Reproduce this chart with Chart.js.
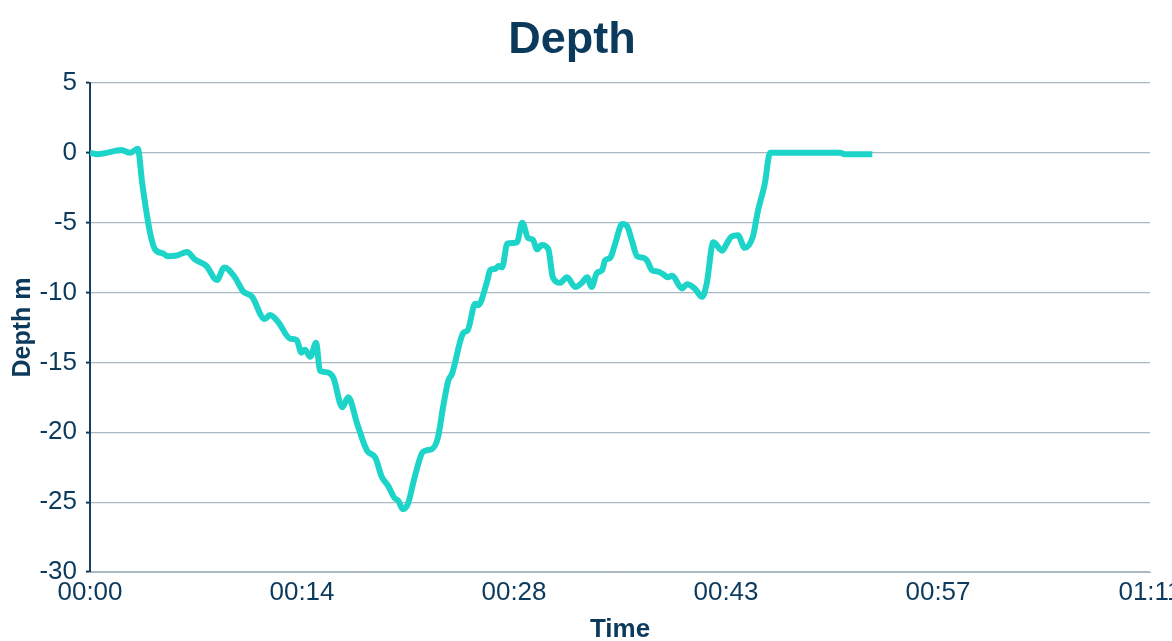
<!DOCTYPE html>
<html>
<head>
<meta charset="utf-8">
<script src="https://cdn.jsdelivr.net/npm/chart.js@4.4.1/dist/chart.umd.min.js"></script>
<style>
  html, body { margin: 0; padding: 0; background: #fff; }
  .wrap { width: 1172px; height: 641px; overflow: hidden; position: relative; }
  canvas { display: block; }
</style>
</head>
<body>
<div class="wrap">
  <canvas id="depthChart" width="1187" height="641"></canvas>
</div>
<script>
// dive time in minutes
const depthTimes = [
  0, 0.5, 1.1, 2.1, 2.7, 3.2, 3.5, 4.0, 4.35, 4.9,
  5.2, 5.8, 6.5, 7.0, 7.8, 8.5, 9.0, 9.7, 10.25, 10.85,
  11.7, 12.05, 12.6, 13.4, 13.85, 14.15, 14.4, 14.75, 15.15, 15.4,
  15.85, 16.3, 16.9, 17.3, 17.9, 18.55, 19.1, 19.55, 19.95, 20.4,
  20.65, 20.95, 21.3, 21.75, 22.3, 22.9, 23.3, 23.65, 24.0, 24.25,
  25.0, 25.3, 25.8, 26.0, 26.6, 26.8, 27.15, 27.35, 27.6, 27.95,
  28.6, 28.95, 29.35, 29.65, 29.95, 30.25, 30.7, 31.0, 31.5, 31.95,
  32.5, 32.95, 33.3, 33.6, 33.95, 34.3, 34.5, 34.85, 35.15, 35.65,
  35.95, 36.3, 36.65, 37.05, 37.3, 37.65, 38.05, 38.4, 38.7, 39.0,
  39.65, 40.0, 40.5, 41.0, 41.3, 41.75, 42.35, 42.65, 42.95, 43.4,
  43.85, 44.4, 44.75, 45.2, 45.55, 50.25, 50.55, 52.4
];
// depth in metres
const depthValues = [
  0, -0.1, 0, 0.2, 0, 0.3, -2.2, -5.6, -6.9, -7.2,
  -7.4, -7.35, -7.1, -7.6, -8.1, -9.1, -8.2, -8.9, -9.9, -10.3,
  -11.9, -11.6, -12.1, -13.3, -13.4, -14.3, -14.1, -14.6, -13.6, -15.6,
  -15.7, -16.1, -18.2, -17.5, -19.4, -21.3, -21.8, -23.2, -23.8, -24.7,
  -24.9, -25.5, -25.1, -23.2, -21.4, -21.2, -20.4, -18.2, -16.3, -15.8,
  -12.9, -12.7, -10.8, -10.9, -9.2, -8.4, -8.3, -8.1, -8.2, -6.5,
  -6.4, -5.0, -6.1, -6.2, -6.9, -6.6, -6.9, -8.9, -9.3, -8.9,
  -9.6, -9.3, -8.9, -9.6, -8.6, -8.4, -7.7, -7.5, -6.6, -5.1,
  -5.2, -6.3, -7.4, -7.5, -7.7, -8.4, -8.5, -8.7, -8.9, -8.8,
  -9.7, -9.4, -9.7, -10.3, -9.4, -6.4, -7.0, -6.5, -6.0, -5.9,
  -6.8, -6.0, -4.1, -2.2, 0, 0, -0.1, -0.1
];
const xTickValues = [0, 14.2, 28.4, 42.6, 56.8, 71];
const xTickLabels = ['00:00', '00:14', '00:28', '00:43', '00:57', '01:11'];

const navy = '#0c3a5d';
const gridGray = '#a9b9c4';
const fontFamily = 'Arial, "Liberation Sans", sans-serif';

const ctx = document.getElementById('depthChart').getContext('2d');
new Chart(ctx, {
  type: 'line',
  data: {
    datasets: [{
      label: 'Depth',
      data: depthTimes.map((t, i) => ({ x: t, y: depthValues[i] })),
      borderColor: '#1cd4c8',
      borderWidth: 6,
      pointRadius: 0,
      fill: false,
      cubicInterpolationMode: 'monotone'
    }]
  },
  options: {
    responsive: false,
    animation: false,
    // canvas is a bit wider than the window so the last time label gets cut like the original
    layout: { padding: { left: -6, right: 37, top: 0, bottom: 0 } },
    plugins: {
      legend: { display: false },
      tooltip: { enabled: false },
      title: {
        display: true,
        text: 'Depth',
        color: navy,
        font: { family: fontFamily, size: 45, weight: 'bold' },
        padding: { top: 14, bottom: 15 }
      }
    },
    scales: {
      x: {
        type: 'linear',
        min: 0,
        max: 71,
        afterBuildTicks: scale => {
          scale.ticks = xTickValues.map(v => ({ value: v }));
        },
        afterFit: scale => {
          scale.height = 69;
        },
        grid: { display: false, drawTicks: false },
        border: { display: true, color: gridGray, width: 1 },
        ticks: {
          autoSkip: false,
          maxRotation: 0,
          padding: 5,
          color: navy,
          font: { family: fontFamily, size: 26 },
          callback: (v, i) => xTickLabels[i]
        },
        title: {
          display: true,
          text: 'Time',
          color: navy,
          font: { family: fontFamily, size: 26, weight: 'bold', lineHeight: 0.85 },
          padding: { top: 6, bottom: 0 }
        }
      },
      y: {
        min: -30,
        max: 5,
        afterFit: scale => {
          scale.width = 96;
        },
        ticks: {
          stepSize: 5,
          padding: 9,
          color: navy,
          font: { family: fontFamily, size: 26 }
        },
        grid: {
          color: gridGray,
          lineWidth: 1.2,
          tickColor: navy,
          tickLength: 4,
          tickWidth: 2
        },
        border: { display: true, color: '#1c3f5f', width: 2 },
        title: {
          display: true,
          text: 'Depth m',
          color: navy,
          font: { family: fontFamily, size: 25, weight: 'bold' },
          padding: { top: 14, bottom: 0 }
        }
      }
    }
  }
});
</script>
</body>
</html>
